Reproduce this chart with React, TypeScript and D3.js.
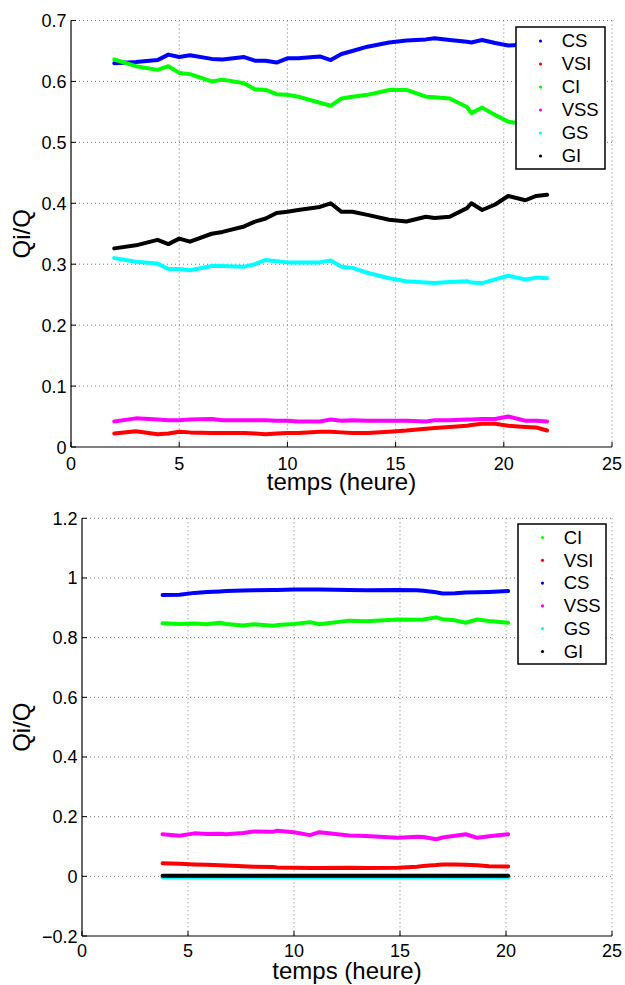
import React from "react";
import * as d3 from "d3";

// ---------- Top chart data ----------
const topTime = [2, 3, 4, 4.5, 5, 5.5, 6.5, 7, 8, 8.5, 9, 9.5, 10, 10.5, 11.5, 12, 12.5, 13, 13.7, 14.7, 15.5, 16.4, 16.8, 17.5, 18.3, 18.5, 19, 19.6, 20.2, 21, 21.5, 22];
const topCS = [0.630, 0.632, 0.635, 0.644, 0.640, 0.643, 0.637, 0.636, 0.640, 0.634, 0.634, 0.631, 0.638, 0.638, 0.641, 0.635, 0.645, 0.650, 0.657, 0.664, 0.667, 0.669, 0.671, 0.668, 0.665, 0.664, 0.668, 0.663, 0.659, 0.660, 0.662, 0.662];
const topVSI = [0.022, 0.026, 0.021, 0.022, 0.025, 0.024, 0.023, 0.023, 0.023, 0.022, 0.021, 0.022, 0.023, 0.023, 0.025, 0.025, 0.024, 0.023, 0.023, 0.025, 0.027, 0.030, 0.031, 0.033, 0.035, 0.036, 0.038, 0.038, 0.035, 0.033, 0.032, 0.027];
const topCI = [0.636, 0.625, 0.619, 0.625, 0.614, 0.612, 0.600, 0.603, 0.597, 0.587, 0.586, 0.579, 0.578, 0.575, 0.565, 0.560, 0.572, 0.575, 0.578, 0.586, 0.586, 0.575, 0.574, 0.572, 0.558, 0.548, 0.557, 0.545, 0.534, 0.530, 0.528, 0.526];
const topVSS = [0.042, 0.047, 0.045, 0.044, 0.044, 0.045, 0.046, 0.044, 0.044, 0.044, 0.044, 0.043, 0.043, 0.042, 0.042, 0.045, 0.043, 0.044, 0.043, 0.043, 0.043, 0.042, 0.044, 0.044, 0.045, 0.045, 0.046, 0.046, 0.050, 0.043, 0.043, 0.042];
const topGS = [0.310, 0.304, 0.301, 0.292, 0.292, 0.290, 0.297, 0.297, 0.296, 0.300, 0.307, 0.305, 0.303, 0.303, 0.303, 0.306, 0.296, 0.294, 0.286, 0.277, 0.272, 0.270, 0.269, 0.271, 0.272, 0.270, 0.269, 0.275, 0.281, 0.275, 0.278, 0.277];
const topGI = [0.326, 0.331, 0.340, 0.333, 0.342, 0.337, 0.350, 0.353, 0.362, 0.370, 0.375, 0.384, 0.386, 0.389, 0.394, 0.400, 0.386, 0.386, 0.381, 0.373, 0.370, 0.378, 0.376, 0.378, 0.392, 0.400, 0.389, 0.398, 0.412, 0.405, 0.412, 0.414];

// ---------- Bottom chart data ----------
const botTime = [3.8, 4.6, 5.3, 5.9, 6.5, 6.8, 7.6, 8.1, 9.0, 9.2, 10.0, 10.75, 11.2, 12.6, 13.4, 14.9, 15.8, 16.1, 16.7, 17.0, 17.6, 18.1, 18.65, 19.2, 20.1];
const botCI = [0.848, 0.846, 0.847, 0.845, 0.850, 0.846, 0.841, 0.845, 0.840, 0.842, 0.846, 0.852, 0.845, 0.857, 0.855, 0.861, 0.860, 0.861, 0.868, 0.862, 0.858, 0.850, 0.861, 0.856, 0.850];
const botVSI = [0.044, 0.042, 0.040, 0.039, 0.037, 0.036, 0.034, 0.032, 0.031, 0.030, 0.029, 0.028, 0.028, 0.029, 0.028, 0.029, 0.032, 0.035, 0.038, 0.040, 0.040, 0.039, 0.037, 0.034, 0.033];
const botCS = [0.943, 0.944, 0.950, 0.953, 0.955, 0.956, 0.958, 0.959, 0.960, 0.960, 0.961, 0.961, 0.961, 0.960, 0.959, 0.960, 0.959, 0.957, 0.952, 0.948, 0.949, 0.951, 0.952, 0.953, 0.956];
const botVSS = [0.141, 0.136, 0.144, 0.142, 0.143, 0.141, 0.145, 0.150, 0.149, 0.153, 0.148, 0.138, 0.148, 0.137, 0.135, 0.129, 0.133, 0.132, 0.124, 0.130, 0.136, 0.141, 0.129, 0.134, 0.141];
const botGS = [-0.003, -0.003, -0.003, -0.003, -0.003, -0.003, -0.003, -0.003, -0.003, -0.003, -0.003, -0.003, -0.003, -0.003, -0.003, -0.003, -0.003, -0.003, -0.003, -0.003, -0.003, -0.003, -0.003, -0.003, -0.003];
const botGI = [0.002, 0.002, 0.002, 0.002, 0.002, 0.002, 0.002, 0.002, 0.002, 0.002, 0.002, 0.002, 0.002, 0.002, 0.002, 0.002, 0.002, 0.002, 0.002, 0.002, 0.002, 0.002, 0.002, 0.002, 0.002];

// ---------- Ticks ----------
const xTicks = [0, 5, 10, 15, 20, 25];
const topYTicks = [0, 0.1, 0.2, 0.3, 0.4, 0.5, 0.6, 0.7];
const botYTicks = [-0.2, 0, 0.2, 0.4, 0.6, 0.8, 1, 1.2];

const COLORS: Record<string, string> = {
  CS: "#0000ff",
  VSI: "#ff0000",
  CI: "#00ff00",
  VSS: "#ff00ff",
  GS: "#00ffff",
  GI: "#000000",
};

const topSeries = [
  { name: "CS", values: topCS },
  { name: "VSI", values: topVSI },
  { name: "CI", values: topCI },
  { name: "VSS", values: topVSS },
  { name: "GS", values: topGS },
  { name: "GI", values: topGI },
];
const botSeries = [
  { name: "CI", values: botCI },
  { name: "VSI", values: botVSI },
  { name: "CS", values: botCS },
  { name: "VSS", values: botVSS },
  { name: "GS", values: botGS },
  { name: "GI", values: botGI },
];

const FONT = "'Liberation Sans', Arial, Helvetica, sans-serif";

type PanelProps = {
  left: number;
  right: number;
  top: number;
  bottom: number;
  yDomain: [number, number];
  yTicks: number[];
  yFmt: (v: number) => string;
  time: number[];
  series: { name: string; values: number[] }[];
  legend: { x0: number; x1: number; y0: number; y1: number; firstY: number; step: number };
  xTickBase: number;
  xLabelY: number;
};

function Panel(p: PanelProps) {
  const x = d3.scaleLinear().domain([0, 25]).range([p.left, p.right]);
  const y = d3.scaleLinear().domain(p.yDomain).range([p.bottom, p.top]);
  const line = d3
    .line<number>()
    .x((_, i) => x(p.time[i]))
    .y((v) => y(v))
    .curve(d3.curveLinear);
  const cy = (p.top + p.bottom) / 2;
  const cx = (p.left + p.right) / 2;
  return (
    <g>
      {/* grid */}
      {xTicks.filter((t) => t !== 0).map((t) => (
        <line key={"gx" + t} x1={x(t)} x2={x(t)} y1={p.top} y2={p.bottom}
          stroke="#7a7a7a" strokeWidth={1} strokeDasharray="1 3" />
      ))}
      {p.yTicks.filter((t) => t !== p.yDomain[0]).map((t) => (
        <line key={"gy" + t} x1={p.left} x2={p.right} y1={y(t)} y2={y(t)}
          stroke="#7a7a7a" strokeWidth={1} strokeDasharray="1 3" />
      ))}
      {/* series */}
      {p.series.map((s) => (
        <path key={s.name} d={line(s.values) || ""} fill="none"
          stroke={COLORS[s.name]} strokeWidth={4} strokeLinejoin="round" strokeLinecap="round" />
      ))}
      {/* axes */}
      <line x1={p.left} x2={p.left} y1={p.top} y2={p.bottom} stroke="#000" strokeWidth={1.2} />
      <line x1={p.left} x2={p.right} y1={p.bottom} y2={p.bottom} stroke="#000" strokeWidth={1.2} />
      {xTicks.map((t) => (
        <g key={"xt" + t}>
          <line x1={x(t)} x2={x(t)} y1={p.bottom} y2={p.bottom - 5} stroke="#000" strokeWidth={1} />
          <text x={x(t)} y={p.bottom + p.xTickBase} textAnchor="middle" fontSize={18} fontFamily={FONT} fill="#000">{t}</text>
        </g>
      ))}
      {p.yTicks.map((t) => (
        <g key={"yt" + t}>
          <line x1={p.left} x2={p.left + 5} y1={y(t)} y2={y(t)} stroke="#000" strokeWidth={1} />
          <text x={p.left - 4.5} y={y(t) + 6.5} textAnchor="end" fontSize={18} fontFamily={FONT} fill="#000">{p.yFmt(t)}</text>
        </g>
      ))}
      {/* labels */}
      <text x={cx} y={p.xLabelY} textAnchor="middle" fontSize={24} fontFamily={FONT} fill="#000">temps (heure)</text>
      <text transform={`translate(30,${cy}) rotate(-90)`} textAnchor="middle" fontSize={24} fontFamily={FONT} fill="#000">Qi/Q</text>
      {/* legend */}
      <rect x={p.legend.x0} y={p.legend.y0} width={p.legend.x1 - p.legend.x0} height={p.legend.y1 - p.legend.y0}
        fill="#fff" stroke="#000" strokeWidth={1.5} />
      {p.series.map((s, i) => {
        const ly = p.legend.firstY + i * p.legend.step;
        return (
          <g key={"lg" + s.name}>
            <circle cx={p.legend.x0 + 24.5} cy={ly} r={1.6} fill={COLORS[s.name]} />
            <text x={p.legend.x0 + 45.7} y={ly + 6.3} fontSize={18.5} fontFamily={FONT} fill="#000">{s.name}</text>
          </g>
        );
      })}
    </g>
  );
}

const fmtTop = (v: number) => (v === 0 ? "0" : d3.format(".1f")(v));
const fmtBot = (v: number) => {
  if (v === 0) return "0";
  if (v === 1) return "1";
  const s = d3.format(".1f")(v);
  return s.replace("-", "\u2212");
};

export default function App() {
  return (
    <svg width={625} height={985} style={{ position: "absolute", left: 0, top: 0, background: "#fff" }}>
      <rect x={0} y={0} width={625} height={985} fill="#fff" />
      <Panel
        left={71} right={612} top={20.5} bottom={447}
        yDomain={[0, 0.7]} yTicks={topYTicks} yFmt={fmtTop}
        time={topTime} series={topSeries}
        legend={{ x0: 516, x1: 605, y0: 27, y1: 169, firstY: 41, step: 23 }}
        xTickBase={23}
        xLabelY={490}
      />
      <Panel
        left={82} right={612} top={518.3} bottom={936}
        yDomain={[-0.2, 1.2]} yTicks={botYTicks} yFmt={fmtBot}
        time={botTime} series={botSeries}
        legend={{ x0: 518, x1: 606, y0: 524, y1: 664, firstY: 537.5, step: 22.8 }}
        xTickBase={21.3}
        xLabelY={979}
      />
    </svg>
  );
}
